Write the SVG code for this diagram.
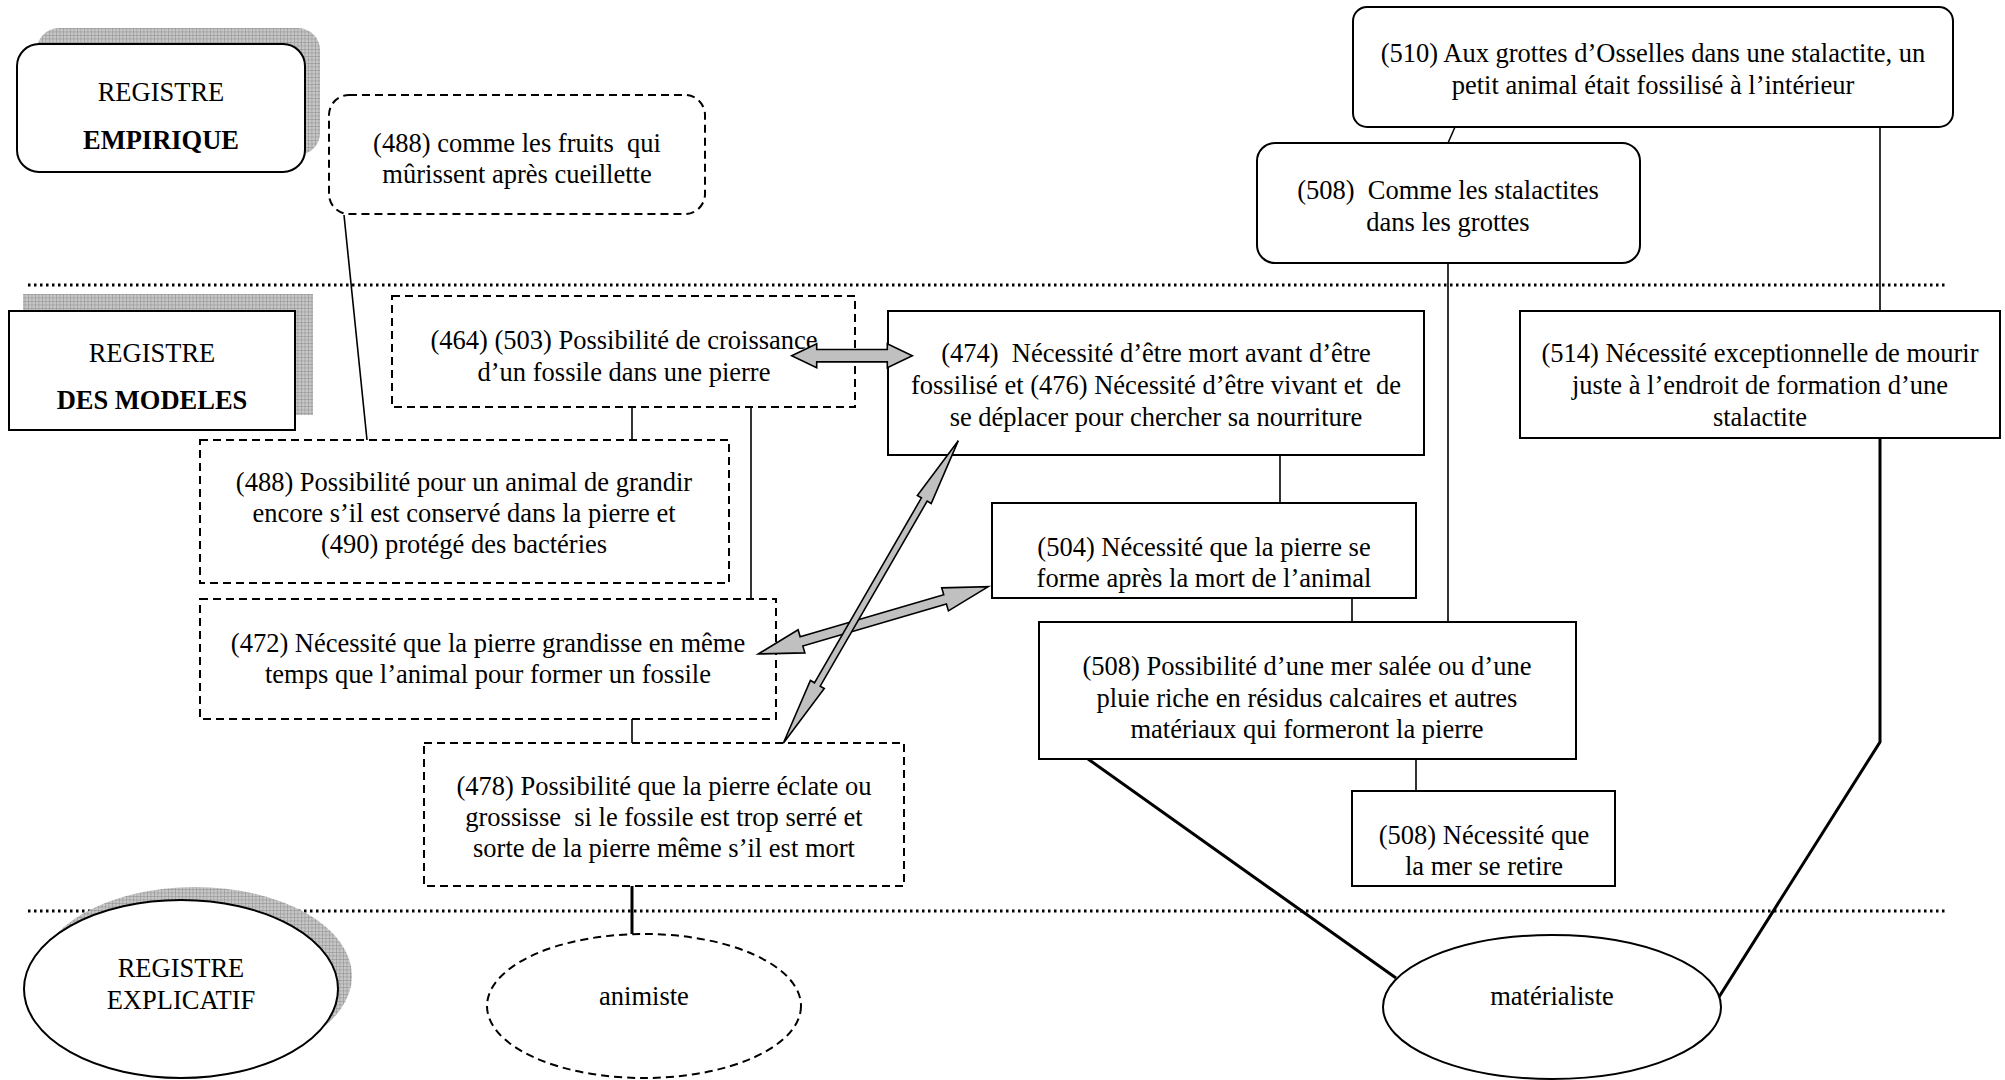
<svg xmlns="http://www.w3.org/2000/svg" width="2005" height="1080" viewBox="0 0 2005 1080">
<defs>
<pattern id="grid" width="3.5" height="3.5" patternUnits="userSpaceOnUse"><rect width="3.5" height="3.5" fill="#c6c6c6"/><path d="M0 0H3.5M0 0V3.5" stroke="#808080" stroke-width="0.8" fill="none"/></pattern>
<style>
text{font-family:"Liberation Serif","Times New Roman",serif;font-size:26.5px;fill:#000;text-anchor:middle;white-space:pre}
.b{font-weight:bold}
.box{fill:#fff;stroke:#000;stroke-width:2}
.dash{fill:#fff;stroke:#000;stroke-width:2;stroke-dasharray:8 5}
.shadow{fill:url(#grid);stroke:none}
.sep{stroke:#000;stroke-width:3;stroke-dasharray:2.5 3.5;fill:none}
.ln{stroke:#000;stroke-width:1.6;fill:none}
.thick{stroke:#000;stroke-width:3;fill:none}
.arr{fill:#c0c0c0;stroke:#000;stroke-width:1.6;stroke-linejoin:miter}
</style>
</defs>
<rect width="2005" height="1080" fill="#fff"/>

<g id="separators">
<line class="sep" x1="28" y1="285" x2="1945" y2="285"/>
<line class="sep" x1="28" y1="911" x2="1947" y2="911"/>
</g>

<g id="connectors">
<line class="ln" x1="344" y1="215" x2="367" y2="440"/>
<line class="ln" x1="632" y1="407" x2="632" y2="440"/>
<line class="ln" x1="751" y1="407" x2="751" y2="599"/>
<line class="ln" x1="632" y1="719" x2="632" y2="743"/>
<line class="thick" x1="632" y1="886" x2="632" y2="934"/>
<line class="ln" x1="1455" y1="127" x2="1448" y2="143"/>
<line class="ln" x1="1880" y1="127" x2="1880" y2="311"/>
<line class="ln" x1="1448" y1="263" x2="1448" y2="622"/>
<line class="ln" x1="1280" y1="455" x2="1280" y2="503"/>
<line class="ln" x1="1352" y1="598" x2="1352" y2="622"/>
<line class="ln" x1="1416" y1="759" x2="1416" y2="791"/>
<line class="thick" x1="1088" y1="759" x2="1396" y2="978"/>
<polyline class="thick" points="1880,438 1880,742 1719,997"/>
</g>

<g id="registre-empirique">
<rect class="shadow" x="37" y="28" width="283" height="127" rx="22"/>
<rect class="box" x="17" y="44" width="288" height="128" rx="22" stroke-width="2.5"/>
<text x="161" y="101">REGISTRE</text>
<text class="b" x="161" y="149">EMPIRIQUE</text>
</g>

<g id="registre-modeles">
<rect class="shadow" x="23" y="294" width="290" height="121"/>
<rect class="box" x="9" y="311" width="286" height="119" stroke-width="2.5"/>
<text x="152" y="362">REGISTRE</text>
<text class="b" x="152" y="409">DES MODELES</text>
</g>

<g id="registre-explicatif">
<ellipse class="shadow" cx="195" cy="976" rx="157" ry="89"/>
<ellipse class="box" cx="181" cy="989" rx="157" ry="89"/>
<text x="181" y="977">REGISTRE</text>
<text x="181" y="1009">EXPLICATIF</text>
</g>

<g id="n488a">
<rect class="dash" x="329" y="95" width="376" height="119" rx="20"/>
<text x="517" y="152">(488) comme les fruits  qui</text>
<text x="517" y="183">mûrissent après cueillette</text>
</g>

<g id="n464">
<rect class="dash" x="392" y="296" width="463" height="111"/>
<text x="624" y="349">(464) (503) Possibilité de croissance</text>
<text x="624" y="381">d’un fossile dans une pierre</text>
</g>

<g id="n488b">
<rect class="dash" x="200" y="440" width="529" height="143"/>
<text x="464" y="491">(488) Possibilité pour un animal de grandir</text>
<text x="464" y="522">encore s’il est conservé dans la pierre et</text>
<text x="464" y="553">(490) protégé des bactéries</text>
</g>

<g id="n472">
<rect class="dash" x="200" y="599" width="576" height="120"/>
<text x="488" y="652">(472) Nécessité que la pierre grandisse en même</text>
<text x="488" y="683">temps que l’animal pour former un fossile</text>
</g>

<g id="n478">
<rect class="dash" x="424" y="743" width="480" height="143"/>
<text x="664" y="795">(478) Possibilité que la pierre éclate ou</text>
<text x="664" y="826">grossisse  si le fossile est trop serré et</text>
<text x="664" y="857">sorte de la pierre même s’il est mort</text>
</g>

<g id="animiste">
<ellipse class="dash" cx="644" cy="1006" rx="157" ry="72" stroke-dasharray="7 5"/>
<text x="644" y="1005">animiste</text>
</g>

<g id="n510">
<rect class="box" x="1353" y="7" width="600" height="120" rx="14"/>
<text x="1653" y="62">(510) Aux grottes d’Osselles dans une stalactite, un</text>
<text x="1653" y="94">petit animal était fossilisé à l’intérieur</text>
</g>

<g id="n508a">
<rect class="box" x="1257" y="143" width="383" height="120" rx="18"/>
<text x="1448" y="199">(508)  Comme les stalactites</text>
<text x="1448" y="231">dans les grottes</text>
</g>

<g id="n474">
<rect class="box" x="888" y="311" width="536" height="144"/>
<text x="1156" y="362">(474)  Nécessité d’être mort avant d’être</text>
<text x="1156" y="394">fossilisé et (476) Nécessité d’être vivant et  de</text>
<text x="1156" y="426">se déplacer pour chercher sa nourriture</text>
</g>

<g id="n514">
<rect class="box" x="1520" y="311" width="480" height="127"/>
<text x="1760" y="362">(514) Nécessité exceptionnelle de mourir</text>
<text x="1760" y="394">juste à l’endroit de formation d’une</text>
<text x="1760" y="426">stalactite</text>
</g>

<g id="n504">
<rect class="box" x="992" y="503" width="424" height="95"/>
<text x="1204" y="556">(504) Nécessité que la pierre se</text>
<text x="1204" y="587">forme après la mort de l’animal</text>
</g>

<g id="n508b">
<rect class="box" x="1039" y="622" width="537" height="137"/>
<text x="1307" y="675">(508) Possibilité d’une mer salée ou d’une</text>
<text x="1307" y="707">pluie riche en résidus calcaires et autres</text>
<text x="1307" y="738">matériaux qui formeront la pierre</text>
</g>

<g id="n508c">
<rect class="box" x="1352" y="791" width="263" height="95"/>
<text x="1484" y="844">(508) Nécessité que</text>
<text x="1484" y="875">la mer se retire</text>
</g>

<g id="materialiste">
<ellipse class="box" cx="1552" cy="1007" rx="169" ry="72"/>
<text x="1552" y="1005">matérialiste</text>
</g>

<g id="arrows">
<polygon class="arr" points="791.7,355.7 816.7,343.7 816.7,349.5 887.3,349.5 887.3,343.7 912.3,355.7 887.3,367.7 887.3,361.9 816.7,361.9 816.7,367.7"/>
<polygon class="arr" transform="translate(758.3,654) rotate(-16.31)" points="0,0 45,-12 45,-4.8 194.6,-4.8 194.6,-12 239.6,0 194.6,12 194.6,4.8 45,4.8 45,12"/>
<polygon class="arr" transform="translate(783.3,743.3) rotate(-59.96)" points="0,0 68,-8 68,-3.3 281.6,-3.3 281.6,-8 349.6,0 281.6,8 281.6,3.3 68,3.3 68,8"/>
</g>
</svg>
